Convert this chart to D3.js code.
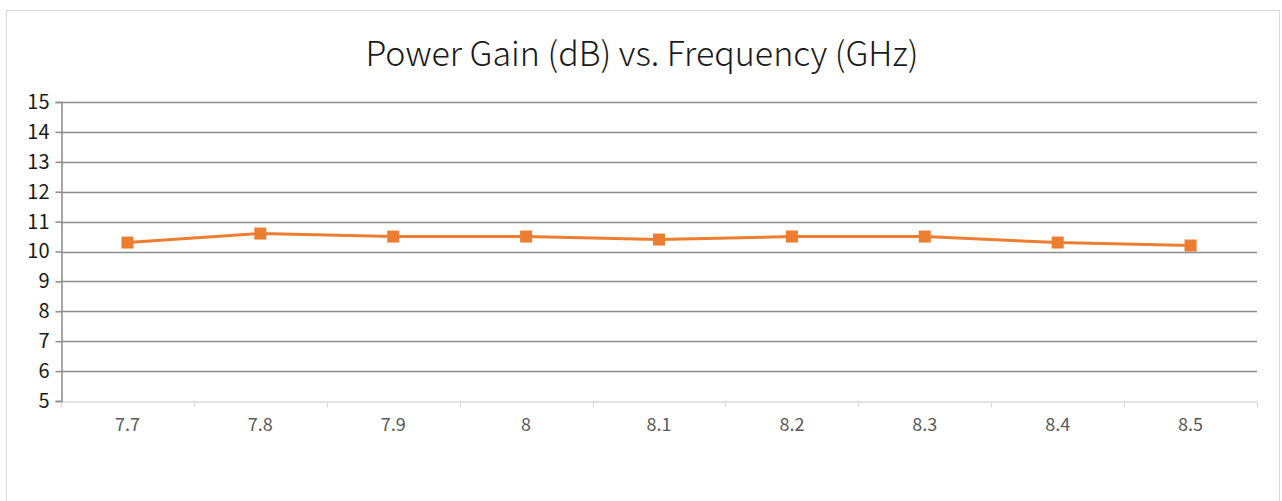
<!DOCTYPE html>
<html>
<head>
<meta charset="utf-8">
<script src="https://cdn.jsdelivr.net/npm/d3@7"></script>
<style>
  body { margin: 0; background: #fff; }
  svg { display: block; font-family: "Noto Sans CJK SC", "Noto Sans", sans-serif; }
</style>
</head>
<body>
<div id="chart"></div>
<script>
// Chart data
const frequencies = ["7.7", "7.8", "7.9", "8", "8.1", "8.2", "8.3", "8.4", "8.5"];
const gainValues = [10.3, 10.6, 10.5, 10.5, 10.4, 10.5, 10.5, 10.3, 10.2];
const yTicks = [5, 6, 7, 8, 9, 10, 11, 12, 13, 14, 15];
const chartTitle = "Power Gain (dB) vs. Frequency (GHz)";

const width = 1282, height = 501;
const margin = { top: 102, right: 25, bottom: 100, left: 61 };
const innerWidth = width - margin.left - margin.right;
const innerHeight = 401 - margin.top;
const lineColor = "#ED7D31";

const svg = d3.select("#chart")
    .append("svg")
    .attr("width", width)
    .attr("height", height);

// Chart frame
svg.append("rect")
    .attr("x", 6.5)
    .attr("y", 10.5)
    .attr("width", 1273)
    .attr("height", 520)
    .attr("fill", "#fff")
    .attr("stroke", "#d9d9d9")
    .attr("stroke-width", 1);

// Title
svg.append("text")
    .attr("x", 642)
    .attr("y", 66)
    .attr("text-anchor", "middle")
    .attr("font-size", 34)
    .attr("font-weight", 300)
    .attr("fill", "#1a1a1a")
    .text(chartTitle);

const innerChart = svg.append("g")
    .attr("transform", `translate(${margin.left},${margin.top})`);

/* Scales */
const xScale = d3.scaleBand()
    .domain(frequencies)
    .range([0, innerWidth]);

const yScale = d3.scaleLinear()
    .domain([5, 15])
    .range([innerHeight, 0]);

/* Gridlines */
innerChart.append("g")
    .selectAll("line")
    .data(yTicks.filter(d => d > 5))
    .join("line")
        .attr("x1", 0)
        .attr("x2", innerWidth)
        .attr("y1", d => Math.round(yScale(d)) + 0.5)
        .attr("y2", d => Math.round(yScale(d)) + 0.5)
        .attr("stroke", "#8c8c8c")
        .attr("stroke-width", 1.5);

/* X axis */
const xAxisGroup = innerChart.append("g")
    .attr("transform", `translate(0,${innerHeight + 0.5})`)
    .call(d3.axisBottom(xScale).tickSize(0).tickPadding(17));

xAxisGroup.select(".domain").attr("stroke", "#d9d9d9").attr("stroke-width", 1.5);
xAxisGroup.selectAll("text")
    .style("font-size", "18px")
    .attr("fill", "#595959")
    .attr("font-family", "\"Noto Sans CJK SC\", sans-serif");

// Category boundary ticks
const boundaries = frequencies.map(d => xScale(d)).concat([innerWidth]);
xAxisGroup.selectAll(".boundary")
    .data(boundaries)
    .join("line")
        .attr("class", "boundary")
        .attr("x1", d => Math.round(d) + 0.5)
        .attr("x2", d => Math.round(d) + 0.5)
        .attr("y1", 0)
        .attr("y2", 6)
        .attr("stroke", "#d9d9d9")
        .attr("stroke-width", 1);

/* Y axis */
const yAxisGroup = innerChart.append("g")
    .attr("transform", "translate(0.5,0)")
    .call(d3.axisLeft(yScale).tickValues(yTicks).tickSize(6).tickPadding(6).tickFormat(d3.format("d")));

yAxisGroup.select(".domain").attr("stroke", "#8c8c8c").attr("stroke-width", 1.5);
yAxisGroup.selectAll(".tick line").attr("stroke", "#8c8c8c").attr("stroke-width", 1.5);
yAxisGroup.selectAll("text")
    .style("font-size", "20px")
    .attr("fill", "#1a1a1a")
    .attr("font-family", "\"Noto Sans CJK SC\", sans-serif");

/* Line */
const line = d3.line()
    .x((d, i) => xScale(frequencies[i]) + xScale.bandwidth() / 2)
    .y(d => yScale(d));

innerChart.append("path")
    .datum(gainValues)
    .attr("d", line)
    .attr("fill", "none")
    .attr("stroke", lineColor)
    .attr("stroke-width", 3);

/* Markers */
const markerSize = 12;
innerChart.selectAll(".marker")
    .data(gainValues)
    .join("rect")
        .attr("class", "marker")
        .attr("x", (d, i) => xScale(frequencies[i]) + xScale.bandwidth() / 2 - markerSize / 2)
        .attr("y", d => yScale(d) - markerSize / 2)
        .attr("width", markerSize)
        .attr("height", markerSize)
        .attr("fill", lineColor);
</script>
</body>
</html>
